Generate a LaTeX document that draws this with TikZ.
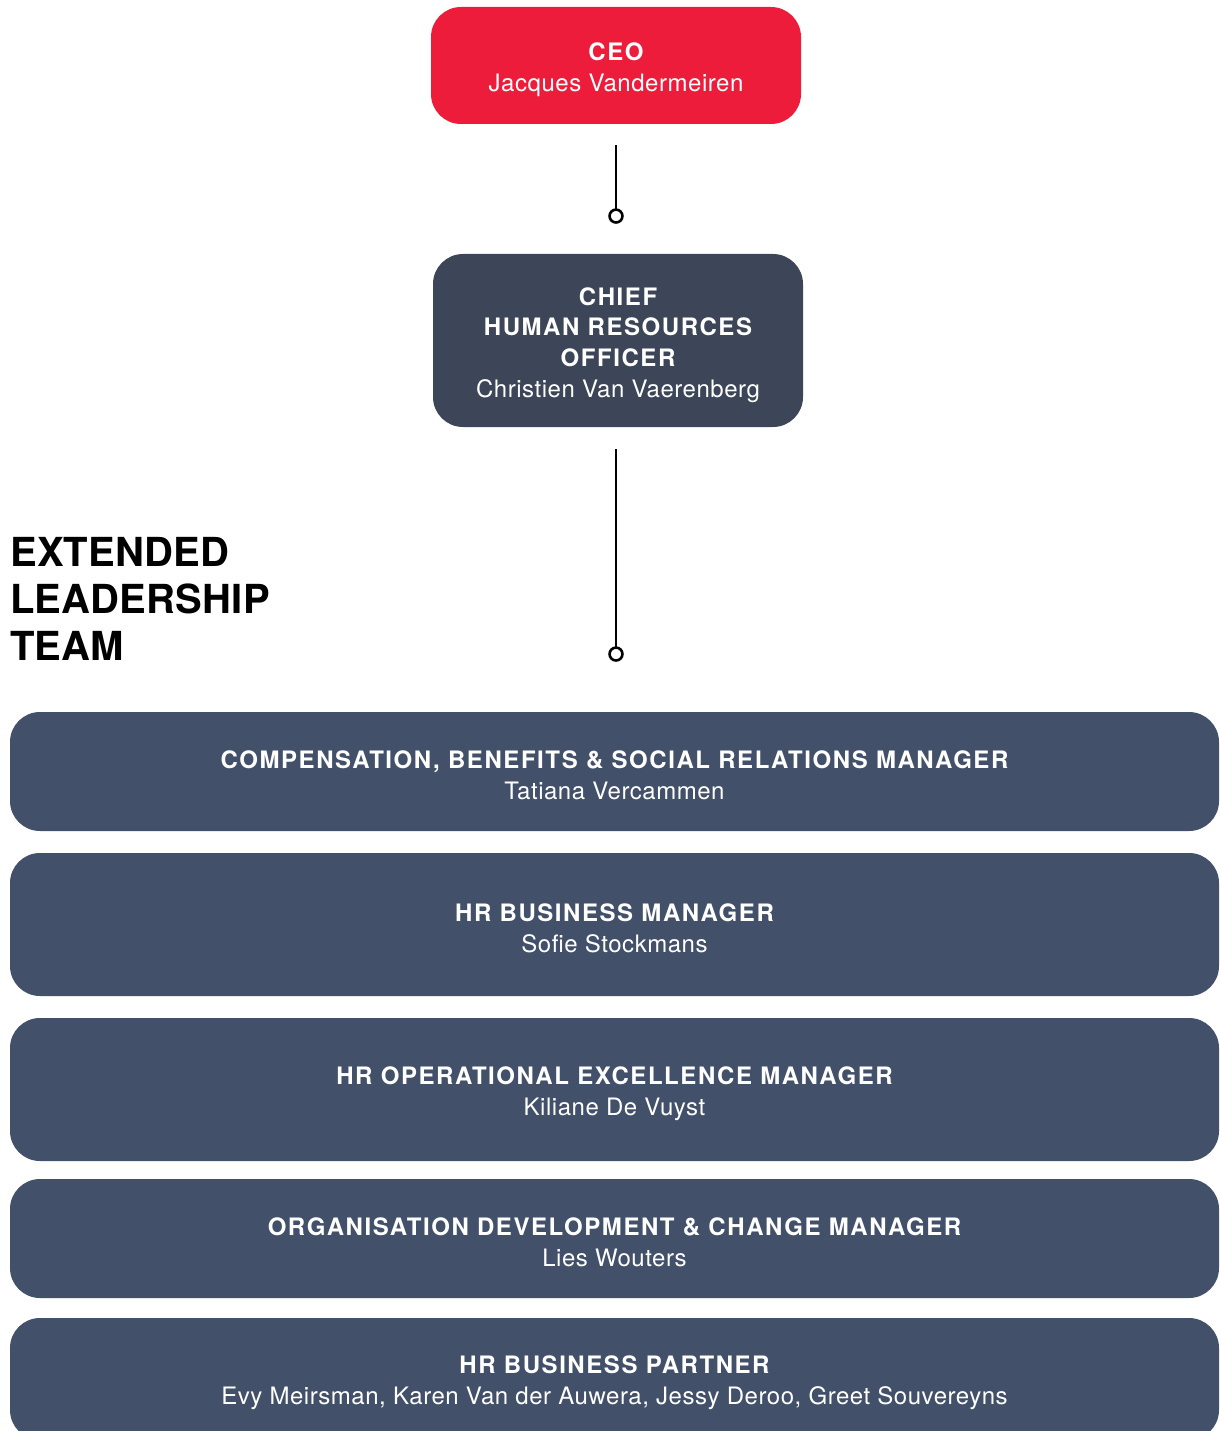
\documentclass[tikz,border=0pt]{standalone}
\usepackage{fontspec}
\setmainfont{TeX Gyre Heros}
\newfontfamily\rolefont{TeX Gyre Heros}[LetterSpace=6.5]
\newfontfamily\namefont{TeX Gyre Heros}[LetterSpace=2.2]
\newfontfamily\headfont{TeX Gyre Heros}[LetterSpace=0.5]
\usetikzlibrary{arrows.meta}
\definecolor{ceored}{RGB}{237,28,59}
\definecolor{chroslate}{RGB}{60,70,88}
\definecolor{teamslate}{RGB}{66,80,106}
\tikzset{
  box/.style={rounded corners=30, inner sep=0pt},
  boxtext/.style={text=white, align=center,
    font=\fontsize{24}{30.6}\selectfont, inner sep=0pt},
  conn/.style={line width=2.6, -{Circle[open,length=15.5pt,width=15.5pt]}}
}
\newcommand{\role}[1]{{\rolefont\bfseries #1}}
\newcommand{\who}[1]{{\namefont #1}}
\begin{document}
\begin{tikzpicture}[x=1pt,y=-1pt]
  \useasboundingbox (0,0) rectangle (1219,1431);

  % Leitung
  \node[box, fill=ceored, minimum width=370, minimum height=117] (ceo) at (616,65.5) {};
  \node[boxtext] (ceo-txt) at ([yshift=-4.5]ceo.center)
    {\role{CEO}\\\who{Jacques Vandermeiren}};
  \node[box, fill=chroslate, minimum width=370, minimum height=173] (chro) at (618,340.5) {};
  \node[boxtext] (chro-txt) at ([yshift=-4.5]chro.center)
    {\role{CHIEF}\\\role{HUMAN RESOURCES}\\\role{OFFICER}\\\who{Christien Van Vaerenberg}};

  % Titel
  \node[anchor=north west, align=left, inner sep=0pt,
    font=\fontsize{40}{47}\selectfont\headfont\bfseries] (elt) at (10,537)
    {EXTENDED\\LEADERSHIP\\TEAM};

  % Team
  \node[box, fill=teamslate, minimum width=1209, minimum height=119] (cb) at (614.5,771.5) {};
  \node[boxtext] (cb-txt) at ([yshift=-4]cb.center)
    {\role{COMPENSATION, BENEFITS \& SOCIAL RELATIONS MANAGER}\\\who{Tatiana Vercammen}};
  \node[box, fill=teamslate, minimum width=1209, minimum height=143] (hrbm) at (614.5,924.5) {};
  \node[boxtext] (hrbm-txt) at ([yshift=-4]hrbm.center)
    {\role{HR BUSINESS MANAGER}\\\who{Sofie Stockmans}};
  \node[box, fill=teamslate, minimum width=1209, minimum height=143] (hrox) at (614.5,1089.5) {};
  \node[boxtext] (hrox-txt) at ([yshift=-4]hrox.center)
    {\role{HR OPERATIONAL EXCELLENCE MANAGER}\\\who{Kiliane De Vuyst}};
  \node[box, fill=teamslate, minimum width=1209, minimum height=119] (odcm) at (614.5,1238.5) {};
  \node[boxtext] (odcm-txt) at ([yshift=-4]odcm.center)
    {\role{ORGANISATION DEVELOPMENT \& CHANGE MANAGER}\\\who{Lies Wouters}};
  \node[box, fill=teamslate, minimum width=1209, minimum height=122] (hrbp) at (614.5,1379) {};
  \node[boxtext] (hrbp-txt) at ([yshift=-4]hrbp.center)
    {\role{HR BUSINESS PARTNER}\\\who{Evy Meirsman, Karen Van der Auwera, Jessy Deroo, Greet Souvereyns}};

  % Verbindungslinien
  \draw[conn] ([yshift=-21]ceo.south) -- ([xshift=-2,yshift=30]chro.north);
  \draw[conn] ([xshift=-2,yshift=-22]chro.south) -- ([xshift=1.5,yshift=50]cb.north);
\end{tikzpicture}
\end{document}
